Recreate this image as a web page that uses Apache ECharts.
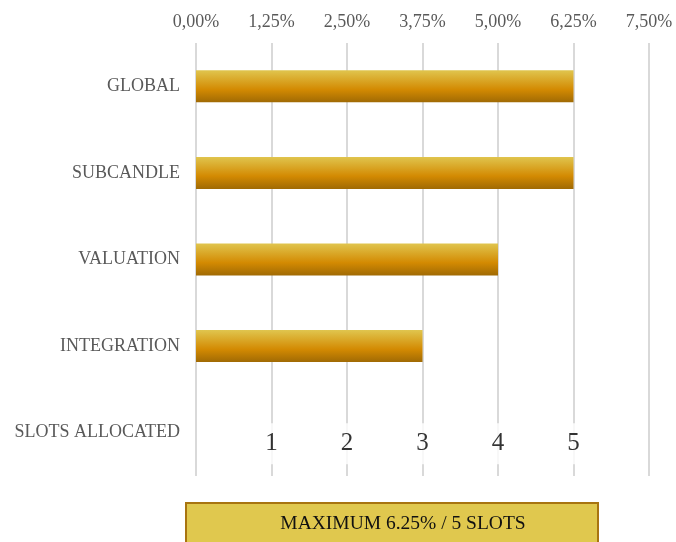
<!DOCTYPE html>
<html><head><meta charset="utf-8">
<script src="https://cdn.jsdelivr.net/npm/echarts@6/dist/echarts.min.js"></script>
<style>html,body{margin:0;padding:0;background:#fff}#c{width:676px;height:542px}</style>
</head><body><div id="c"></div>
<script>
var categories = ['GLOBAL', 'SUBCANDLE', 'VALUATION', 'INTEGRATION', 'SLOTS ALLOCATED'];
var allocation = [6.25, 6.25, 5.00, 3.75, null];
var slotNumbers = [1, 2, 3, 4, 5];
var slotPositions = [1.25, 2.50, 3.75, 5.00, 6.25];
var axisMin = 0, axisMax = 7.5, axisStep = 1.25;
var footnote = 'MAXIMUM 6.25% / 5 SLOTS';

var FONT = '"Liberation Serif", serif';
var chart = echarts.init(document.getElementById('c'));
chart.setOption({
  animation: false,
  grid: { left: 196, right: 27, top: 43, bottom: 66, containLabel: false },
  xAxis: {
    type: 'value', position: 'top', min: axisMin, max: axisMax, interval: axisStep,
    axisLine: { show: false }, axisTick: { show: false },
    axisLabel: { color: '#595959', fontFamily: FONT, fontSize: 18, margin: 12,
      formatter: function (v) { return v.toFixed(2).replace('.', ',') + '%'; } },
    splitLine: { lineStyle: { color: '#d9d9d9', width: 2 } }
  },
  yAxis: {
    type: 'category', data: categories, inverse: true,
    axisLine: { show: false }, axisTick: { show: false },
    axisLabel: { color: '#595959', fontFamily: FONT, fontSize: 18, margin: 16 }
  },
  series: [
    {
      type: 'bar', data: allocation, barWidth: 32, z: 3,
      itemStyle: {
        color: new echarts.graphic.LinearGradient(0, 0, 0, 1, [
          { offset: 0, color: '#e0c54e' },
          { offset: 0.6, color: '#d38a02' },
          { offset: 1, color: '#a06a04' }
        ])
      }
    },
    {
      type: 'scatter', symbolSize: 0, z: 4,
      data: slotPositions.map(function (x, i) { return { value: [x, categories[4]], slot: slotNumbers[i] }; }),
      label: {
        show: true, position: 'inside', offset: [0, 11],
        formatter: function (p) { return String(p.data.slot); },
        color: '#000', fontFamily: FONT, fontSize: 25,
        backgroundColor: '#fff', padding: [8, 6]
      }
    }
  ],
  graphic: [
    { type: 'rect', shape: { x: 186, y: 503, width: 412, height: 60 },
      style: { fill: '#e0c84e', stroke: '#a87410', lineWidth: 2 } },
    { type: 'text', x: 403, y: 524,
      style: { text: footnote, fill: '#111', font: '19.5px ' + FONT, align: 'center', verticalAlign: 'middle' } }
  ]
});
</script>
</body></html>
